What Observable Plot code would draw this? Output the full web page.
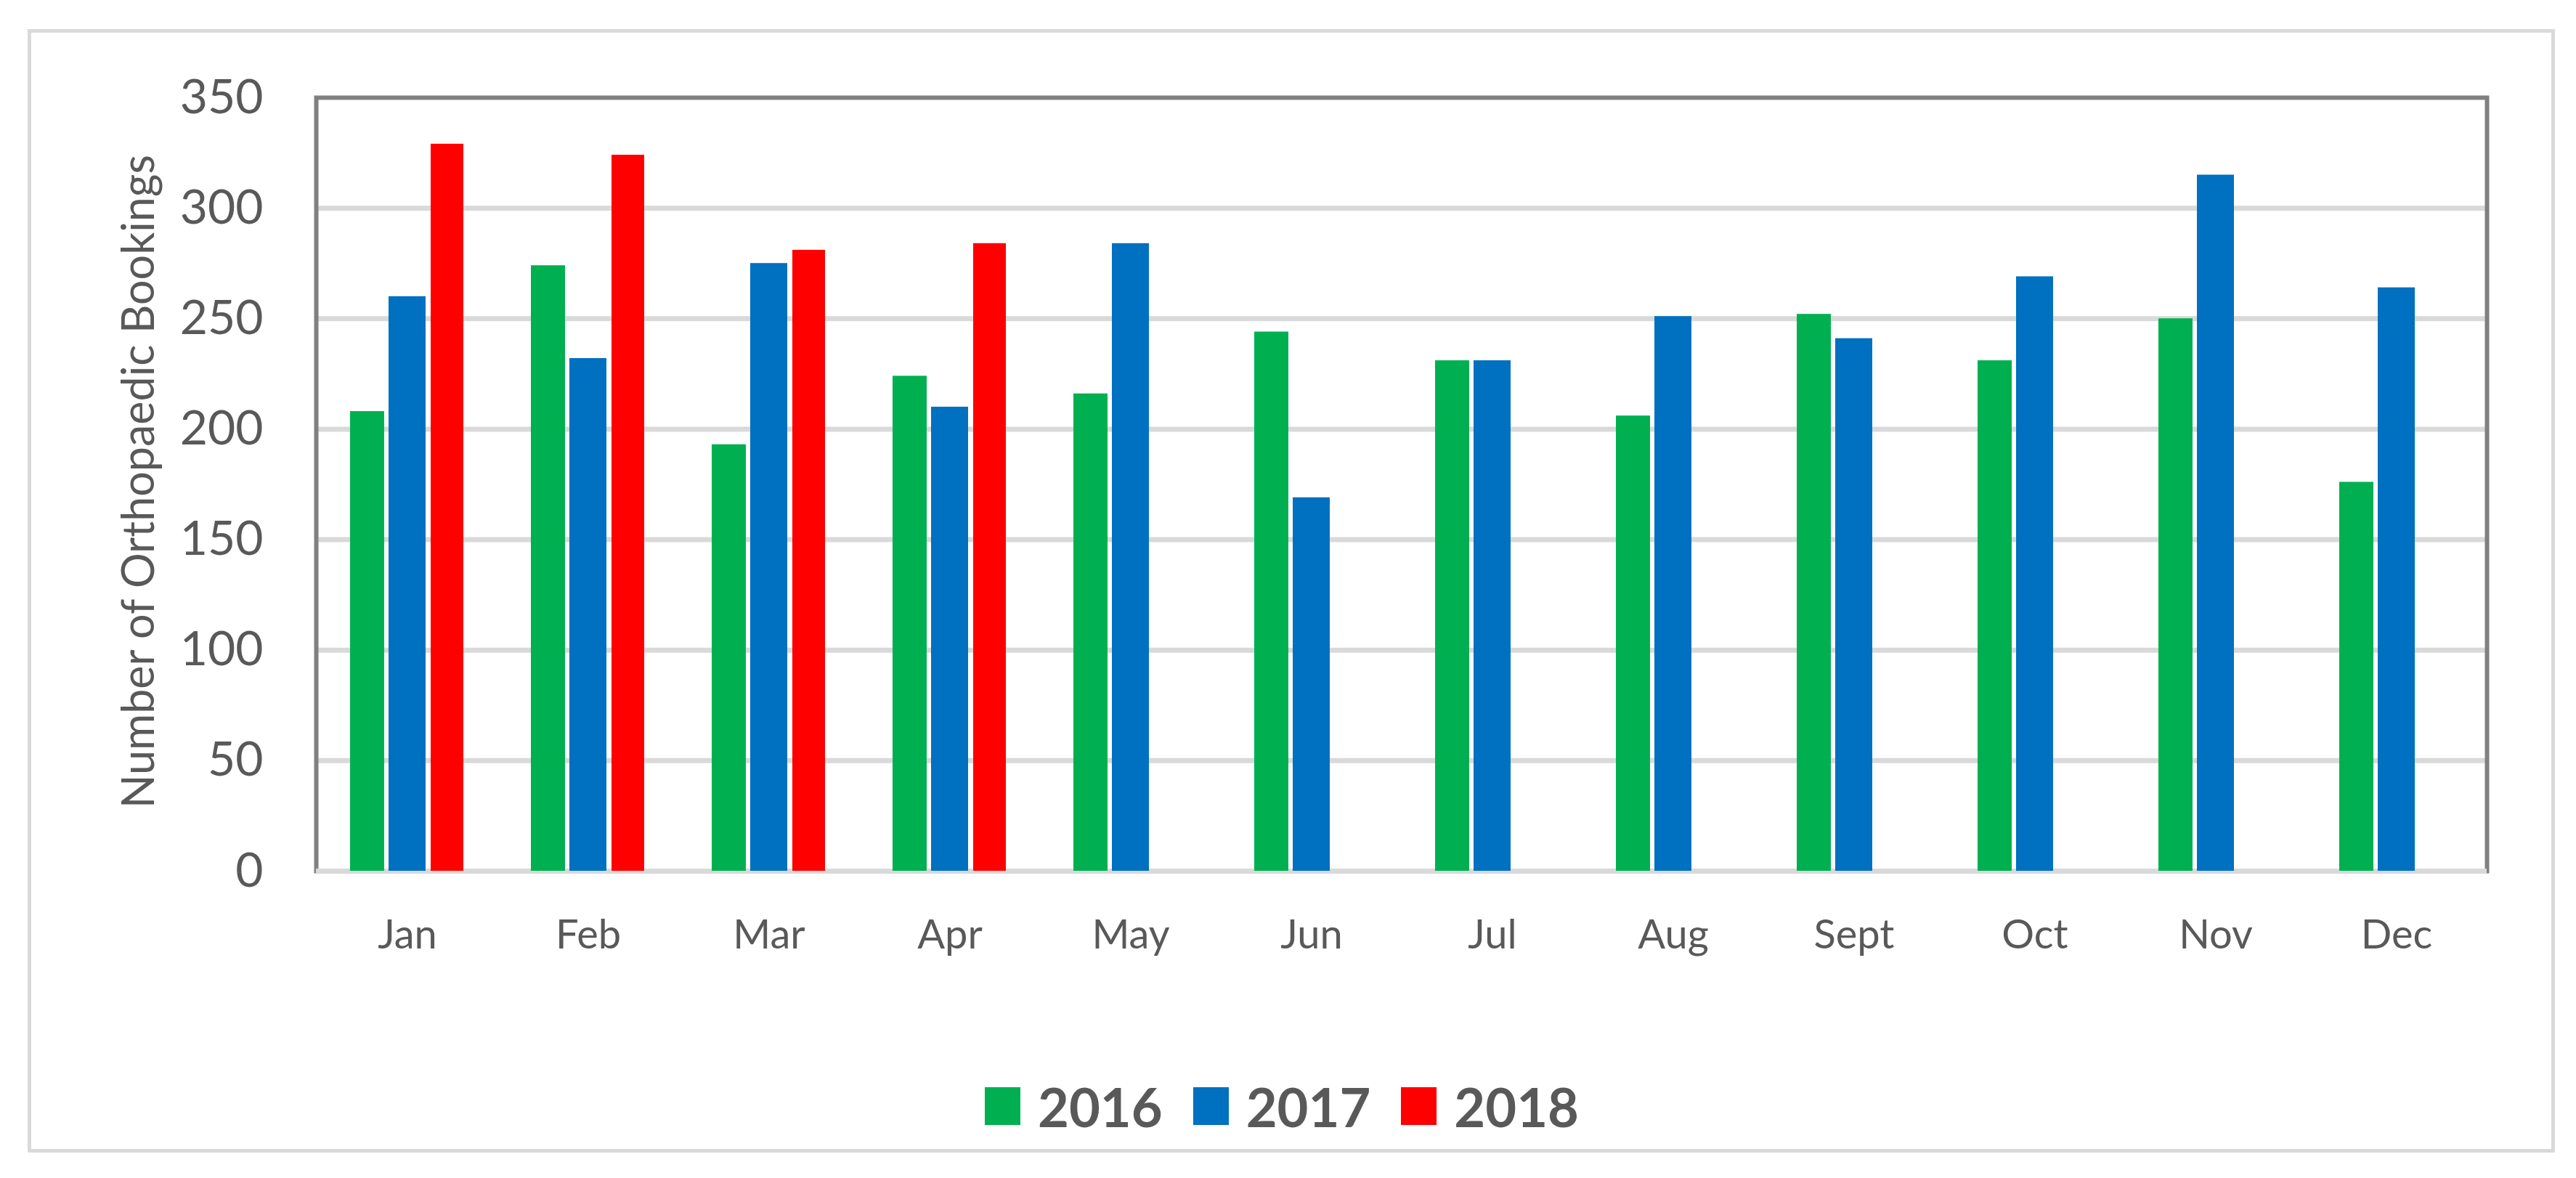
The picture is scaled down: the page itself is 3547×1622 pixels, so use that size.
<!DOCTYPE html>
<html>
<head>
<meta charset="utf-8">
<script src="https://cdn.jsdelivr.net/npm/d3@7"></script>
<script src="https://cdn.jsdelivr.net/npm/@observablehq/plot@0.6"></script>
<style>
  html, body { margin: 0; padding: 0; background: #ffffff; }
  #page { position: relative; width: 3547px; height: 1622px; background: #ffffff; overflow: hidden; }
  #chart { position: absolute; left: 0; top: 0; }
  #legend { position: absolute; left: 0; top: 1473px; width: 3530px; height: 100px;
            display: flex; justify-content: center; align-items: center;
            font-family: Lato, sans-serif; font-weight: 700; font-size: 74px; color: #595959; }
  .item { display: flex; align-items: center; margin: 0 21px; }
  .sw { width: 49px; height: 52px; margin-right: 24px; }
  #border { position: absolute; left: 37.5px; top: 39.5px; width: 3480px; height: 1547px;
            border: 5px solid #d9d9d9; box-sizing: border-box; pointer-events: none; }
</style>
</head>
<body>
<div id="page">
  <div id="chart"></div>
  <div id="legend"></div>
  <div id="border"></div>
</div>
<script>
const months = ["Jan","Feb","Mar","Apr","May","Jun","Jul","Aug","Sept","Oct","Nov","Dec"];
const v2016 = [208,274,193,224,216,244,231,206,252,231,250,176];
const v2017 = [260,232,275,210,284,169,231,251,241,269,315,264];
const v2018 = [329,324,281,284];
const years = ["2016","2017","2018"];
const colors = ["#00b050","#0070c0","#ff0000"];
const yTicks = [0,50,100,150,200,250,300,350];
const yTitle = "Number of Orthopaedic Bookings";

const seriesValues = [v2016, v2017, v2018];
const series = years.map((yr, k) => seriesValues[k].map((v, i) => ({month: months[i], year: yr, value: v})));

const offsets = [-55, 0, 55];
const insets = [101, 99, 102];

const barMarks = series.map((rows, k) => Plot.barY(rows, {
  x: "month", y: "value", fill: colors[k],
  insetLeft: insets[k], insetRight: insets[k], dx: offsets[k]
}));

const chart = Plot.plot({
  width: 3547, height: 1400,
  marginLeft: 435, marginRight: 123, marginTop: 134, marginBottom: 201,
  x: {domain: months, padding: 0, axis: null},
  y: {domain: [0, 350], axis: null},
  style: {fontFamily: "Lato, sans-serif", color: "#595959", background: "transparent", overflow: "visible"},
  marks: [
    Plot.ruleY(yTicks.filter(t => t > 0 && t < 350), {stroke: "#d9d9d9", strokeWidth: 7}),
    Plot.frame({stroke: "#808080", strokeWidth: 6}),
    Plot.ruleY([0], {stroke: "#d9d9d9", strokeWidth: 7}),
    ...barMarks,
    Plot.axisY({ticks: yTicks, tickSize: 0, tickPadding: 73, fontSize: 66, label: null, fill: "#595959"}),
    Plot.axisX({tickSize: 0, tickPadding: 67, fontSize: 56, label: null, fill: "#595959"}),
    Plot.text([yTitle], {frameAnchor: "left", textAnchor: "middle", lineAnchor: "middle", rotate: -90, dx: -243, dy: -4, fontSize: 61, fill: "#595959", text: d => d})
  ]
});
document.getElementById("chart").appendChild(chart);

const legend = document.getElementById("legend");
years.forEach((yr, k) => {
  const item = document.createElement("div");
  item.className = "item";
  const sw = document.createElement("div");
  sw.className = "sw";
  sw.style.background = colors[k];
  const t = document.createElement("span");
  t.textContent = yr;
  item.appendChild(sw);
  item.appendChild(t);
  legend.appendChild(item);
});
</script>
</body>
</html>
